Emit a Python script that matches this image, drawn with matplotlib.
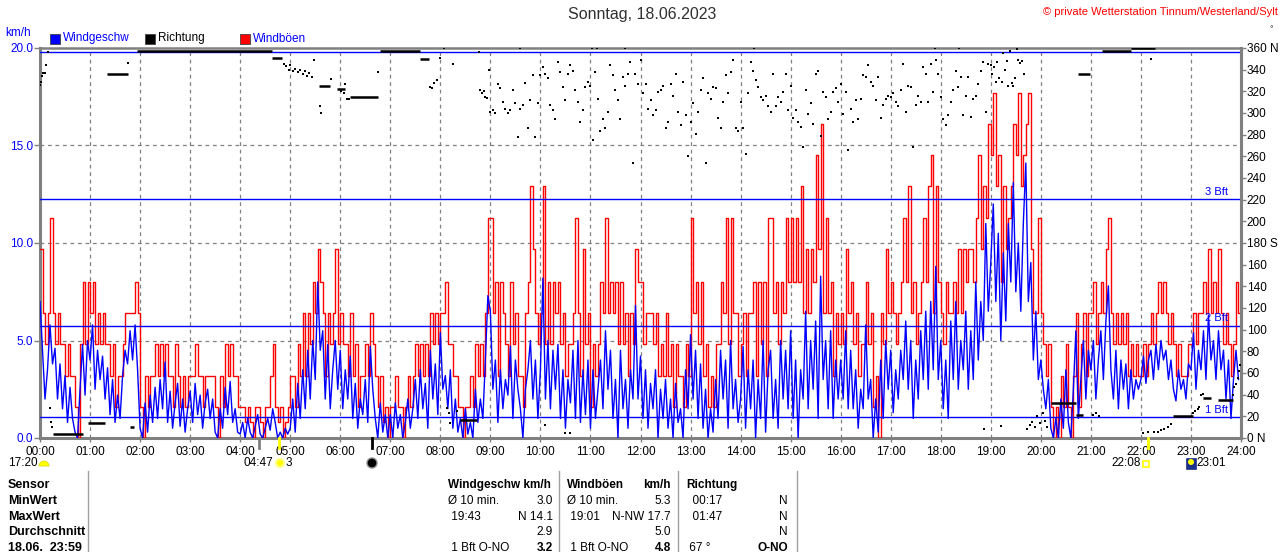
import numpy as np
import matplotlib
matplotlib.use("Agg")
import matplotlib.pyplot as plt
from matplotlib.patches import Rectangle, Circle, Wedge
from matplotlib.transforms import IdentityTransform

plt.rcParams['font.family'] = ['Liberation Sans', 'DejaVu Sans']

# ---------------- data ----------------
STEP_MIN = 3  # sampling of the wind series (minutes)

wind_kmh = [
    7.0, 4.5, 2.0, 3.5, 5.8, 3.8, 4.6, 2.0, 3.8, 1.5, 3.2, 0.8, 2.6, 1.0, 0.3, 0.0, 2.5, 4.8, 2.2, 5.0,
    4.0, 5.8, 2.5, 4.5, 3.0, 4.2, 2.0, 3.6, 1.2, 3.0, 0.8, 2.2, 1.0, 3.2, 4.5, 3.8, 5.5, 4.0, 5.8, 3.5,
    0.5, 0.0, 1.8, 0.3, 2.2, 0.8, 2.6, 1.0, 3.0, 1.5, 3.9, 0.8, 2.4, 0.5, 1.8, 2.8, 0.6, 2.0, 0.3, 1.5,
    2.4, 0.8, 2.8, 1.2, 2.2, 0.5, 1.8, 2.5, 1.0, 2.0, 0.3, 0.0, 1.5, 0.5, 2.6, 1.2, 2.9, 0.8, 1.5, 0.3,
    0.2, 0.8, 0.0, 1.0, 0.3, 0.0, 0.6, 1.2, 0.2, 0.0, 0.5, 1.0, 0.4, 1.5, 0.8, 0.0, 0.3, 0.0, 0.5, 0.2,
    0.5, 2.0, 0.3, 2.8, 1.0, 3.5, 1.5, 4.5, 2.0, 5.0, 3.0, 8.0, 4.5, 5.5, 2.0, 4.8, 1.5, 3.5, 5.0, 2.5,
    4.5, 1.5, 3.5, 2.0, 4.2, 1.0, 2.8, 0.5, 2.0, 1.2, 3.0, 0.8, 4.7, 2.5, 1.0, 0.0, 1.8, 0.3, 1.2, 0.0,
    1.2, 0.0, 1.8, 0.5, 1.2, 0.0, 0.8, 2.0, 0.5, 1.5, 3.0, 1.0, 3.5, 1.5, 2.8, 0.5, 4.5, 2.0, 3.8, 1.2,
    5.4, 2.5, 3.2, 1.5, 3.5, 0.5, 2.0, 0.3, 1.0, 0.0, 1.5, 0.2, 0.8, 0.0, 2.5, 0.8, 2.0, 1.0, 4.0, 7.3,
    6.5, 2.5, 4.0, 0.8, 3.5, 1.5, 3.0, 2.2, 4.7, 1.0, 4.0, 2.5, 1.5, 0.0, 2.5, 3.5, 5.0, 2.0, 4.0, 1.0,
    3.5, 8.2, 2.0, 5.0, 1.5, 4.5, 2.5, 4.8, 1.0, 3.5, 0.5, 3.0, 1.8, 4.5, 1.0, 5.0, 0.8, 3.5, 1.2, 4.0,
    0.5, 3.5, 1.0, 2.5, 4.0, 1.5, 5.5, 2.5, 4.5, 1.0, 3.0, 0.0, 4.5, 1.5, 3.0, 0.5, 3.5, 2.0, 6.8, 2.0,
    4.2, 1.0, 3.5, 0.5, 2.8, 1.5, 3.5, 0.0, 2.5, 1.0, 3.0, 0.5, 2.0, 0.0, 2.8, 0.8, 1.5, 0.0, 3.5, 1.5,
    5.3, 2.0, 4.5, 1.0, 3.8, 0.5, 2.5, 0.0, 1.5, 0.3, 3.0, 1.0, 4.5, 2.0, 4.0, 0.5, 5.0, 1.5, 3.0, 0.8,
    2.0, 4.7, 0.5, 3.5, 1.5, 4.0, 0.0, 3.0, 1.0, 5.0, 0.3, 3.5, 4.5, 1.0, 3.0, 0.5, 5.0, 2.0, 4.5, 1.5,
    5.5, 1.0, 4.0, 0.0, 3.5, 2.0, 6.5, 1.5, 5.0, 2.5, 6.0, 1.0, 8.3, 3.0, 5.0, 1.5, 5.5, 1.0, 4.0, 2.0,
    4.0, 2.0, 5.5, 1.5, 4.5, 1.5, 3.5, 0.5, 2.5, 1.5, 5.8, 2.0, 3.0, 0.0, 2.0, 0.3, 4.0, 1.0, 5.0, 2.5,
    4.5, 1.3, 3.5, 2.0, 4.5, 3.0, 6.0, 2.5, 5.0, 1.0, 4.0, 2.0, 5.5, 3.0, 6.5, 2.5, 7.0, 3.5, 8.8, 3.0,
    5.0, 1.5, 4.0, 1.0, 6.0, 3.0, 7.0, 2.5, 5.0, 3.5, 6.5, 2.5, 5.5, 3.0, 8.0, 4.0, 7.0, 5.0, 11.0, 6.5,
    9.0, 12.0, 7.0, 10.5, 5.0, 9.5, 6.0, 11.0, 8.0, 13.1, 7.5, 10.0, 6.5, 11.0, 14.1, 7.0, 9.0, 4.0, 6.5, 3.0,
    4.0, 2.5, 1.5, 3.0, 0.5, 0.0, 1.0, 0.0, 2.0, 0.5, 3.5, 0.8, 0.0, 2.5, 5.5, 1.0, 3.0, 5.0, 2.0, 4.5,
    3.5, 5.0, 2.0, 4.0, 5.5, 3.0, 6.0, 7.8, 3.5, 2.0, 4.5, 1.5, 4.0, 2.5, 3.8, 1.5, 3.5, 2.0, 3.0, 2.5,
    3.0, 4.2, 2.8, 4.0, 4.5, 3.0, 4.8, 3.5, 5.0, 4.0, 4.5, 3.0, 4.0, 2.5, 1.9, 3.5, 2.5, 3.0, 2.0, 3.8,
    3.5, 5.4, 2.5, 4.5, 3.5, 5.5, 3.0, 6.3, 4.0, 5.0, 3.0, 5.5, 3.5, 4.5, 2.0, 4.0, 1.0, 3.0, 4.5, 3.0,
]

gust_kmh = [
    9.7, 6.4, 4.8, 6.4, 11.3, 6.4, 4.8, 6.4, 4.8, 4.8, 3.2, 4.8, 3.2, 3.2, 1.6, 0.0, 4.8, 8.0, 4.8, 8.0,
    6.4, 8.0, 4.8, 6.4, 4.8, 6.4, 4.8, 4.8, 3.2, 4.8, 1.6, 3.2, 3.2, 4.8, 6.4, 6.4, 6.4, 6.4, 8.0, 6.4,
    1.6, 0.0, 3.2, 1.6, 3.2, 3.2, 4.8, 3.2, 4.8, 3.2, 4.8, 3.2, 3.2, 1.6, 4.8, 3.2, 1.6, 3.2, 1.6, 3.2,
    3.2, 3.2, 4.8, 3.2, 3.2, 1.6, 3.2, 3.2, 3.2, 3.2, 1.6, 0.0, 3.2, 1.6, 4.8, 3.2, 4.8, 3.2, 3.2, 1.6,
    1.6, 1.6, 0.8, 1.6, 0.8, 0.0, 1.6, 1.6, 0.8, 0.0, 1.6, 1.6, 3.2, 4.8, 1.6, 0.8, 1.6, 0.0, 0.8, 1.6,
    3.2, 3.2, 1.6, 4.8, 3.2, 6.4, 3.2, 6.4, 4.8, 8.0, 6.4, 9.7, 8.0, 6.4, 3.2, 6.4, 4.8, 6.4, 9.7, 4.8,
    6.4, 4.8, 4.8, 3.2, 6.4, 3.2, 4.8, 1.6, 3.2, 3.2, 4.8, 3.2, 6.4, 4.8, 3.2, 1.6, 3.2, 0.8, 1.6, 0.0,
    1.6, 1.6, 3.2, 1.6, 1.6, 0.0, 1.6, 3.2, 1.6, 3.2, 4.8, 3.2, 4.8, 3.2, 4.8, 3.2, 6.4, 4.8, 6.4, 4.8,
    6.4, 6.4, 8.0, 4.8, 4.8, 3.2, 3.2, 1.6, 1.6, 0.0, 1.6, 1.6, 3.2, 1.6, 4.8, 3.2, 4.8, 3.2, 6.4, 11.3,
    11.3, 6.4, 8.0, 3.2, 8.0, 6.4, 4.8, 3.2, 8.0, 4.8, 6.4, 3.2, 3.2, 1.6, 6.4, 8.0, 12.9, 9.7, 6.4, 4.8,
    6.4, 12.9, 4.8, 8.0, 4.8, 8.0, 6.4, 8.0, 4.8, 6.4, 3.2, 4.8, 4.8, 6.4, 11.3, 6.4, 3.2, 9.7, 4.8, 6.4,
    1.6, 4.8, 3.2, 4.8, 8.0, 6.4, 11.3, 6.4, 8.0, 6.4, 8.0, 4.8, 8.0, 4.8, 6.4, 3.2, 6.4, 4.8, 9.7, 8.0,
    8.0, 4.8, 6.4, 6.4, 6.4, 4.8, 6.4, 3.2, 4.8, 3.2, 6.4, 3.2, 4.8, 1.6, 4.8, 3.2, 3.2, 1.6, 4.8, 3.2,
    11.3, 6.4, 8.0, 4.8, 8.0, 3.2, 4.8, 1.6, 3.2, 1.6, 4.8, 4.8, 8.0, 6.4, 11.3, 4.8, 11.3, 6.4, 6.4, 3.2,
    4.8, 6.4, 3.2, 6.4, 6.4, 8.0, 3.2, 8.0, 4.8, 8.0, 3.2, 11.3, 11.3, 6.4, 8.0, 4.8, 8.0, 6.4, 11.3, 8.0,
    11.3, 8.0, 11.3, 8.0, 12.9, 6.4, 9.7, 6.4, 9.7, 8.0, 14.5, 9.7, 16.1, 6.4, 11.3, 6.4, 8.0, 3.2, 6.4, 4.8,
    6.4, 4.8, 9.7, 6.4, 8.0, 4.8, 6.4, 3.2, 4.8, 4.8, 8.0, 4.8, 6.4, 1.6, 3.2, 0.0, 6.4, 4.8, 9.7, 6.4,
    8.0, 6.4, 4.8, 6.4, 8.0, 11.3, 8.0, 12.9, 6.4, 8.0, 4.8, 6.4, 8.0, 11.3, 8.0, 12.9, 14.5, 6.4, 12.9, 8.0,
    6.4, 4.8, 8.0, 6.4, 6.4, 8.0, 6.4, 9.7, 6.4, 9.7, 8.0, 9.7, 9.7, 8.0, 11.3, 14.5, 9.7, 12.9, 11.3, 16.1,
    14.5, 17.7, 12.9, 14.5, 8.0, 12.9, 9.7, 11.3, 12.9, 16.1, 14.5, 17.7, 12.9, 14.5, 16.1, 17.7, 9.7, 6.4, 6.4, 11.3,
    6.4, 4.8, 3.2, 4.8, 1.6, 0.0, 1.6, 0.0, 3.2, 1.6, 4.8, 1.6, 0.0, 3.2, 6.4, 1.6, 4.8, 6.4, 3.2, 6.4,
    6.4, 8.0, 4.8, 6.4, 8.0, 6.4, 9.7, 11.3, 6.4, 4.8, 6.4, 4.8, 6.4, 4.8, 6.4, 3.2, 4.8, 3.2, 4.8, 3.2,
    3.2, 4.8, 3.2, 4.8, 6.4, 4.8, 6.4, 8.0, 6.4, 8.0, 6.4, 4.8, 6.4, 4.8, 3.2, 4.8, 3.2, 3.2, 3.2, 4.8,
    4.8, 6.4, 4.8, 6.4, 6.4, 8.0, 6.4, 9.7, 6.4, 8.0, 6.4, 9.7, 6.4, 4.8, 6.4, 4.8, 3.2, 4.8, 8.0, 6.4,
]

# direction: steady runs (minute start, minute end, degrees)
dir_run_start = [16, 58, 80, 108, 116, 278, 335, 356, 372, 408, 456, 504, 1212, 1242, 1244, 1273, 1308, 1358, 1395, 1412]
dir_run_end   = [52, 78, 106, 113, 278, 290, 348, 366, 405, 456, 467, 524, 1242, 1250, 1259, 1308, 1337, 1382, 1404, 1430]
dir_run_deg   = [4, 14, 336, 10, 357, 351, 325, 322, 315, 357, 350, 17, 32, 21, 336, 357, 360, 20, 37, 35]

# direction: single readings (minute of day, degrees)
dir_dot_min = [0, 1, 2, 3, 5, 6, 7, 9, 12, 13, 14, 106,
               292, 295, 298, 300, 303, 306, 309, 312, 315, 318, 320, 323, 326, 329, 336, 337,
               349, 361, 364, 366, 368, 370, 405, 468, 470, 473, 476,
               480, 484, 488, 490, 492, 495, 500, 526, 528, 530, 532, 534, 536, 538,
               606, 630, 636, 575, 662, 668, 702, 856, 1073, 1102,
               1132, 1140, 1142, 1144, 1146, 1148, 1150, 1152, 1153, 1155, 1157, 1159, 1161, 1163,
               1165, 1167, 1169, 1171, 1173, 1175, 1177, 1180, 1184, 1187, 1190, 1193, 1196, 1199,
               1202, 1205, 1207, 1262, 1266, 1270,
               1322, 1328, 1332, 1336, 1340, 1344, 1348, 1352, 1356,
               1382, 1385, 1388, 1390, 1392, 1394, 1430, 1432, 1434, 1436, 1438, 1439]
dir_dot_deg = [326, 329, 334, 337, 337, 337, 344, 356, 28, 15, 10, 346,
               345, 343, 340, 344, 339, 341, 338, 340, 336, 339, 334, 337, 333, 349, 306, 300,
               331, 320, 318, 327, 313, 313, 338, 324, 323, 328, 330,
               351, 360, 28, 23, 14, 345, 25, 356, 321, 318, 320, 315, 314, 340,
               12, 5, 5, 360, 360, 360, 360, 360, 360, 360,
               8, 344, 336, 342, 329, 347, 332, 11, 329, 355, 340, 348, 325, 357,
               328, 325, 332, 359, 349, 346, 348, 336, 8, 12, 15, 10, 20, 14,
               23, 16, 10, 21, 23, 20,
               5, 6, 350, 6, 6, 7, 8, 10, 13,
               23, 25, 27, 29, 40, 41, 40, 47, 50, 55, 62, 67]

# direction: scattered readings 09:00-19:00, one every 3 minutes
dir_day_start_h = 9
dir_day_deg = [
    301, 303, 300, 327, 323, 310, 304, 300, 303, 321, 309, 278, 304, 307, 328, 286, 312, 335, 278, 309,
    335, 342, 336, 332, 307, 303, 294, 347, 338, 324, 312, 336, 344, 339, 321, 310, 292, 303, 324, 329,
    325, 275, 338, 313, 283, 294, 286, 301, 344, 335, 321, 312, 294, 333, 325, 336, 347, 254, 336, 327,
    349, 318, 327, 304, 312, 298, 303, 319, 321, 325, 286, 292, 327, 316, 336, 301, 289, 329, 298, 260,
    292, 309, 281, 301, 321, 332, 254, 318, 313, 324, 323, 295, 286, 310, 335, 318, 338, 349, 286, 283,
    310, 286, 262, 318, 347, 339, 330, 324, 315, 312, 316, 306, 301, 336, 306, 315, 310, 319, 336, 303,
    325, 295, 303, 292, 287, 269, 321, 299, 309, 290, 336, 339, 279, 319, 315, 294, 301, 319, 323, 310,
    327, 299, 319, 266, 304, 292, 312, 294, 313, 335, 333, 344, 329, 325, 312, 333, 295, 307, 313, 316,
    315, 318, 310, 306, 321, 345, 301, 325, 324, 269, 307, 316, 310, 342, 336, 310, 345, 319, 349, 336,
    315, 294, 289, 298, 310, 321, 339, 324, 333, 298, 316, 333, 296, 313, 316, 327, 339, 347, 301, 345,
]

bft_kmh = [1.08, 5.76, 12.24, 19.8]
bft_labels = ["1 Bft", "2 Bft", "3 Bft", ""]

hour_labels = ["%02d:00" % h for h in range(25)]
dir_ticks = list(range(0, 361, 20))
dir_ticklabels = [("%d N" % d if d in (0, 360) else ("%d S" % d if d == 180 else str(d))) for d in dir_ticks]

event_hours = [4 + 23 / 60, 4 + 47 / 60, 6 + 38 / 60, 22 + 8 / 60]
event_colors = ["#808080", "#ffff00", "#000000", "#ffff00"]

table_rows = ["Sensor", "MinWert", "MaxWert", "Durchschnitt", "18.06.  23:59"]
col_wind = [("Windgeschw km/h", ""), ("Ø 10 min.", "3.0"), (" 19:43", "N 14.1"), ("", "2.9"), (" 1 Bft O-NO", "3.2")]
col_gust = [("Windböen", "km/h"), ("Ø 10 min.", "5.3"), (" 19:01", "N-NW 17.7"), ("", "5.0"), (" 1 Bft O-NO", "4.8")]
col_dir = [("Richtung", ""), ("  00:17", "N"), ("  01:47", "N"), ("", "N"), (" 67 °", "O-NO")]

# ---------------- figure ----------------
W, H = 1280, 552
fig = plt.figure(figsize=(W / 100, H / 100), dpi=100)
fig.patch.set_facecolor("white")


def fx(x):
    return x / W


def fy(y):
    return 1 - y / H


ax = fig.add_axes([fx(40), fy(438), (1241 - 40) / W, (438 - 48) / H])
ax.set_xlim(0, 24)
ax.set_ylim(0, 20)
ax.set_facecolor("white")

GRAY = "#808080"
for h in range(1, 24):
    ax.axvline(h, color=GRAY, lw=0.9, ls=(0, (3, 3)), zorder=1)
for v in (5, 10, 15):
    ax.axhline(v, color=GRAY, lw=0.9, ls=(0, (3, 3)), zorder=1)

t = np.arange(len(wind_kmh)) * STEP_MIN / 60.0
g = np.array(gust_kmh)
ax.step(np.append(t, 24), np.append(g, g[-1]), where="post", color="#ff0000", lw=1.0, zorder=3)
ax.plot(t, wind_kmh, color="#0000ff", lw=1.0, zorder=4)

for v, lab in zip(bft_kmh, bft_labels):
    ax.axhline(v, color="#0000ff", lw=1.0, zorder=5)
    if lab:
        ax.text(23.74, v + 0.12, lab, color="#0000ff", fontsize=8, ha="right", va="bottom", zorder=6)

for side in ("left", "bottom", "right", "top"):
    ax.spines[side].set_color(GRAY)
    ax.spines[side].set_linewidth(2.2)
ax.spines["top"].set_linewidth(1.8)

ax.set_xticks(range(25))
ax.set_xticklabels(hour_labels)
ax.set_yticks([0, 5, 10, 15, 20])
ax.set_yticklabels(["0.0", "5.0", "10.0", "15.0", "20.0"])
ax.tick_params(axis="x", color=GRAY, length=3, width=1, labelsize=8.5, pad=3, labelcolor="black")
ax.tick_params(axis="y", color=GRAY, length=4, width=1, labelsize=8.5, pad=1, labelcolor="#0000ff")

ax2 = ax.twinx()
ax2.set_ylim(0, 360)
ax2.set_yticks(dir_ticks)
ax2.set_yticklabels(dir_ticklabels)
ax2.tick_params(axis="y", color=GRAY, length=3.5, width=1, labelsize=8.5, pad=0.5, labelcolor="black")
for side in ("left", "bottom", "top"):
    ax2.spines[side].set_visible(False)
ax2.spines["right"].set_color(GRAY)
ax2.spines["right"].set_linewidth(2.2)

rs = np.array(dir_run_start) / 60.0
re_ = np.array(dir_run_end) / 60.0
ax2.hlines(dir_run_deg, rs, re_, color="black", lw=1.8, zorder=7)
ax2.plot(np.array(dir_dot_min) / 60.0, dir_dot_deg, "s", ms=2.0, mew=0, color="black", zorder=7)
td = dir_day_start_h + np.arange(len(dir_day_deg)) * 3 / 60.0
ax2.plot(td, dir_day_deg, "s", ms=2.0, mew=0, color="black", zorder=7)

# event ticks under the time axis
for eh, ec in zip(event_hours, event_colors):
    ax.plot([eh, eh], [0, -0.026], transform=ax.get_xaxis_transform(), color=ec, lw=2, clip_on=False, zorder=8)

# ---------------- texts ----------------
fig.text(fx(642), fy(15), "Sonntag, 18.06.2023", ha="center", va="center", fontsize=11.5, color="#303030")
fig.text(fx(1278), fy(12), "© private Wetterstation Tinnum/Westerland/Sylt", ha="right", va="center",
         fontsize=8, color="#ff0000")
fig.text(fx(5), fy(33), "km/h", ha="left", va="center", fontsize=8.5, color="#0000ff")
fig.text(fx(1270), fy(30), "°", ha="left", va="center", fontsize=6, color="black")

legend_items = [("Windgeschw", "#0000ff", "#0000ff", 50), ("Richtung", "#000000", "#000000", 145),
                ("Windböen", "#ff0000", "#0000ff", 240)]
for lab, fc, tc, x0 in legend_items:
    fig.patches.append(Rectangle((fx(x0), fy(44)), 10 / W, 10 / H, transform=fig.transFigure,
                                 facecolor=fc, edgecolor="#404040", lw=0.6))
    fig.text(fx(x0 + 13), fy(38.5), lab, ha="left", va="center", fontsize=8.5, color=tc)

# astronomical marks
fig.text(fx(8), fy(463), "17:20", ha="left", va="center", fontsize=8.5)
fig.patches.append(Wedge((44, H - 466), 5, 0, 180, transform=IdentityTransform(), facecolor="#ffff00",
                         edgecolor="#e0d000", lw=0.5))
fig.text(fx(273), fy(463), "04:47", ha="right", va="center", fontsize=8.5)
fig.patches.append(Circle((280, H - 463), 4, transform=IdentityTransform(), facecolor="#ffff00",
                          edgecolor="#ffff80", lw=1.5))
fig.text(fx(286), fy(463), "3", ha="left", va="center", fontsize=8.5)
fig.patches.append(Circle((372, H - 463), 5, transform=IdentityTransform(), facecolor="black",
                          edgecolor="#909090", lw=1))
fig.text(fx(1141), fy(463), "22:08", ha="right", va="center", fontsize=8.5)
fig.patches.append(Rectangle((1143, H - 467), 6, 6, transform=IdentityTransform(), facecolor="white",
                             edgecolor="#ffff00", lw=1.2))
fig.patches.append(Rectangle((1186, H - 469), 10, 11, transform=IdentityTransform(), facecolor="#1c2f8a",
                             edgecolor="#1c2f8a", lw=0.5))
fig.patches.append(Circle((1191, H - 462), 3, transform=IdentityTransform(), facecolor="#ffff00",
                          edgecolor="none"))
fig.text(fx(1196), fy(463), "23:01", ha="left", va="center", fontsize=8.5)

# ---------------- table ----------------
row_y = [485, 501, 517, 532, 548]
for ry, lab in zip(row_y, table_rows):
    fig.text(fx(8), fy(ry), lab, ha="left", va="center", fontsize=9, fontweight="bold")

for xv in (88, 559, 678, 797):
    fig.add_artist(plt.Line2D([fx(xv), fx(xv)], [fy(471), 0], transform=fig.transFigure, color="#a0a0a0", lw=1))


def table_col(col, xl, xr):
    for i, ((left, right), ry) in enumerate(zip(col, row_y)):
        bold_l = (i == 0)
        bold_r = (i == 0) or (i == 4)
        if left:
            fig.text(fx(xl), fy(ry), left, ha="left", va="center", fontsize=8.5,
                     fontweight="bold" if bold_l else "normal")
        if right:
            fig.text(fx(xr), fy(ry), right, ha="right", va="center", fontsize=8.5,
                     fontweight="bold" if bold_r else "normal")


table_col(col_wind, 448, 553)
table_col(col_gust, 567, 671)
table_col(col_dir, 686, 788)

fig.savefig("out.png", dpi=100, facecolor="white")
